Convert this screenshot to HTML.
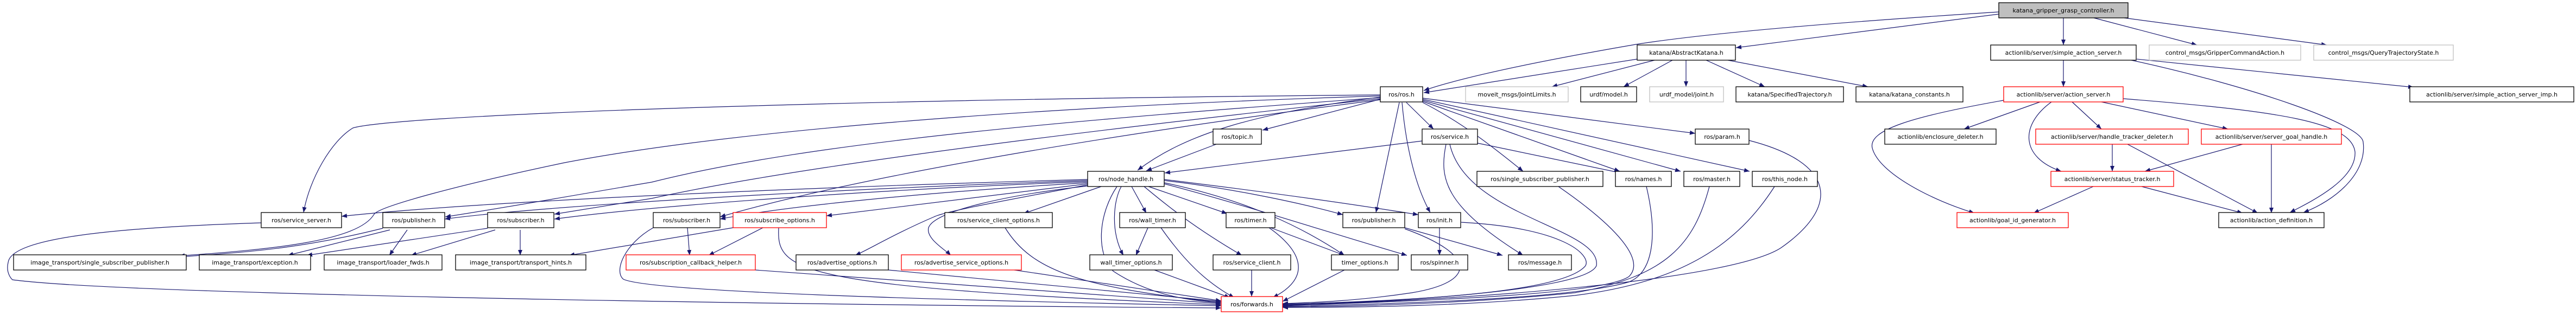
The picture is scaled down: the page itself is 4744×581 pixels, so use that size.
<!DOCTYPE html>
<html><head><meta charset="utf-8"><style>
html,body{margin:0;padding:0;background:#fff;}
svg{display:block;}
text{font-family:"DejaVu Sans","Liberation Sans",sans-serif;font-size:11px;text-anchor:middle;fill:#000;}
.e{fill:none;stroke:#191970;stroke-width:1.2;}
.b rect{fill:#fff;stroke:#000;stroke-width:1.3;}
.r rect{fill:#fff;stroke:#ff0000;stroke-width:1.3;}
.g rect{fill:#fff;stroke:#bfbfbf;stroke-width:1.3;}
</style></head><body>
<svg width="4744" height="581" viewBox="0 0 4744 581" xmlns="http://www.w3.org/2000/svg">
<defs><marker id="a" markerUnits="userSpaceOnUse" markerWidth="11" markerHeight="9" refX="10" refY="4" orient="auto"><path d="M0,0 L10,4 L0,8 z" fill="#191970"/></marker></defs>
<g class="e" marker-end="url(#a)">
<!-- root -->
<path d="M3681,26 L3197,88"/>
<path d="M3681,22 C3400,40 3150,60 3012,82 C2850,110 2700,140 2622,167"/>
<path d="M3800,33 L3800,83"/>
<path d="M3856,33 L4046,83"/>
<path d="M3912,33 L4285,83"/>
<!-- AbstractKatana -->
<path d="M3015,109 L2622,171"/>
<path d="M3047,111 L2858,160"/>
<path d="M3080,111 L2990,160"/>
<path d="M3105,111 L3105,160"/>
<path d="M3142,111 L3250,160"/>
<path d="M3182,111 L3440,160"/>
<!-- simple_action_server -->
<path d="M3800,111 L3800,160"/>
<path d="M3935,109 L4445,161"/>
<path d="M3925,111 C4150,160 4350,230 4352,262 C4360,320 4300,370 4242,392"/>
<!-- action_server -->
<path d="M3910,182 C4200,205 4330,225 4337,280 C4340,330 4260,370 4217,392"/>
<path d="M3757,188 L3617,238"/>
<path d="M3816,188 L3870,238"/>
<path d="M3870,188 L4103,238"/>
<path d="M3778,188 C3720,230 3720,290 3796,316"/>
<path d="M3690,185 C3520,215 3440,240 3448,273 C3460,320 3560,370 3636,393"/>
<!-- htd / sgh / status -->
<path d="M3890,266 L3890,316"/>
<path d="M3918,266 L4158,393"/>
<path d="M4130,266 L3950,316"/>
<path d="M4183,266 L4183,393"/>
<path d="M3855,344 L3745,393"/>
<path d="M3944,344 L4130,393"/>
<!-- ros.h -->
<path d="M2590,189 L2640,238"/>
<path d="M2620,181 L3122,246"/>
<path d="M2620,189 C2700,230 2760,280 2805,316"/>
<path d="M2620,187 L2983,316"/>
<path d="M2620,185 L3095,316"/>
<path d="M2620,183 L3222,316"/>
<path d="M2577,189 L2534,392"/>
<path d="M2582,189 C2590,280 2610,350 2634,392"/>
<path d="M2542,183 L2325,240"/>
<path d="M2542,179 C2300,210 2180,250 2095,314"/>
<path d="M2542,175 C1400,185 720,215 650,236 C610,260 570,330 559,392"/>
<path d="M2542,177 C1800,200 1300,250 1040,300 C850,340 700,380 689,395 C660,445 500,460 330,472"/>
<path d="M2542,180 C2000,220 1500,260 1200,336 C1000,370 900,388 820,400"/>
<path d="M2542,182 C2100,230 1500,300 1200,366 L1021,395"/>
<path d="M2542,184 C2100,240 1600,320 1326,400"/>
<!-- node_handle -->
<path d="M2003,331 C1500,345 900,370 629,399"/>
<path d="M2003,333 C1500,350 1000,380 819,404"/>
<path d="M2003,335 C1600,350 1200,380 1021,404"/>
<path d="M2003,337 C1700,355 1450,380 1326,404"/>
<path d="M2003,339 L1522,398"/>
<path d="M2028,344 L1885,394"/>
<path d="M2084,344 L2111,393"/>
<path d="M2115,344 L2260,394"/>
<path d="M2003,341 C1850,370 1740,390 1720,400 C1650,430 1600,460 1575,471"/>
<path d="M2003,343 C1850,360 1720,390 1710,420 C1705,440 1740,460 1751,471"/>
<path d="M2065,344 C2050,370 2045,430 2069,471"/>
<path d="M2107,344 C2150,380 2200,420 2287,471"/>
<path d="M2057,344 C2020,400 2020,470 2050,500 C2110,540 2180,555 2249,558"/>
<path d="M2144,337 C2300,370 2400,420 2476,471"/>
<path d="M2144,339 C2300,380 2450,430 2591,471"/>
<path d="M2144,333 C2250,345 2380,370 2473,396"/>
<path d="M2144,331 C2300,350 2450,370 2612,396"/>
<!-- mid -->
<path d="M2240,266 L2111,315"/>
<path d="M2619,260 L2145,319"/>
<path d="M2721,264 L2985,319"/>
<path d="M2663,266 C2650,330 2660,380 2805,471"/>
<path d="M2670,266 C2700,400 2950,420 2940,490 C2920,540 2500,560 2362,562"/>
<path d="M3221,259 C3380,300 3390,380 3280,457 C3200,510 2800,550 2362,563"/>
<path d="M2870,344 C2980,420 3030,480 3000,510 C2950,545 2600,555 2362,564"/>
<path d="M3032,344 C3050,420 3050,500 3000,520 C2900,550 2600,560 2362,565"/>
<path d="M3148,344 C3120,450 3070,510 2900,540 C2700,560 2500,565 2362,566"/>
<path d="M3268,344 C3200,450 3100,520 2900,545 C2700,565 2500,567 2362,567"/>
<path d="M2651,420 L2651,471"/>
<path d="M2691,410 C2880,420 2930,470 2920,490 C2880,540 2600,555 2362,561"/>
<path d="M2587,420 L2767,471"/>
<path d="M2587,422 C2720,470 2720,520 2600,540 C2500,555 2420,558 2362,560"/>
<path d="M2476,498 L2362,556"/>
<path d="M2340,420 L2476,471"/>
<path d="M2337,420 C2394,460 2420,510 2344,549"/>
<path d="M2114,420 L2092,471"/>
<path d="M2138,420 C2180,480 2220,520 2273,549"/>
<path d="M2126,498 L2265,549"/>
<path d="M2305,498 L2305,547"/>
<path d="M1851,420 C1900,500 1990,530 2249,558"/>
<path d="M1636,498 L2249,556"/>
<path d="M1868,498 L2249,555"/>
<path d="M1391,498 L2249,560"/>
<path d="M1405,420 L1305,471"/>
<path d="M1434,420 C1430,500 1460,530 2249,562"/>
<path d="M1350,420 L1048,471"/>
<path d="M1266,420 L1270,471"/>
<path d="M1203,420 C1150,450 1130,500 1148,515 C1200,540 1800,555 2249,564"/>
<path d="M481,411 C200,420 20,440 15,484 C10,505 23,516 23,516 C200,540 1200,560 2249,568"/>
<!-- image_transport -->
<path d="M705,421 C550,460 450,465 330,474"/>
<path d="M718,424 L530,471"/>
<path d="M750,424 L717,471"/>
<path d="M898,421 L565,471"/>
<path d="M912,424 L757,471"/>
<path d="M958,424 L958,471"/>
</g>
<!-- nodes -->
<g class="g"><rect x="3681" y="5" width="238" height="28" style="fill:#bfbfbf;stroke:#000"/><text x="3800" y="23">katana_gripper_grasp_controller.h</text></g>
<g class="b"><rect x="3015" y="83" width="181" height="28"/><text x="3105.5" y="101">katana/AbstractKatana.h</text></g>
<g class="b"><rect x="3666" y="83" width="268" height="28"/><text x="3800" y="101">actionlib/server/simple_action_server.h</text></g>
<g class="g"><rect x="3958" y="83" width="279" height="28"/><text x="4097.5" y="101">control_msgs/GripperCommandAction.h</text></g>
<g class="g"><rect x="4261" y="83" width="257" height="28"/><text x="4389.5" y="101">control_msgs/QueryTrajectoryState.h</text></g>
<g class="b"><rect x="2542" y="160" width="78" height="28"/><text x="2581" y="178">ros/ros.h</text></g>
<g class="g"><rect x="2699" y="160" width="189" height="28"/><text x="2793.5" y="178">moveit_msgs/JointLimits.h</text></g>
<g class="b"><rect x="2911" y="160" width="103" height="28"/><text x="2962.5" y="178">urdf/model.h</text></g>
<g class="g"><rect x="3038" y="160" width="136" height="28"/><text x="3106" y="178">urdf_model/joint.h</text></g>
<g class="b"><rect x="3197" y="160" width="198" height="28"/><text x="3296" y="178">katana/SpecifiedTrajectory.h</text></g>
<g class="b"><rect x="3418" y="160" width="197" height="28"/><text x="3516.5" y="178">katana/katana_constants.h</text></g>
<g class="r"><rect x="3690" y="160" width="220" height="28"/><text x="3800" y="178">actionlib/server/action_server.h</text></g>
<g class="b"><rect x="4438" y="160" width="302" height="28"/><text x="4589" y="178">actionlib/server/simple_action_server_imp.h</text></g>
<g class="b"><rect x="2234" y="238" width="89" height="28"/><text x="2278.5" y="256">ros/topic.h</text></g>
<g class="b"><rect x="2619" y="238" width="102" height="28"/><text x="2670" y="256">ros/service.h</text></g>
<g class="b"><rect x="3122" y="238" width="99" height="28"/><text x="3171.5" y="256">ros/param.h</text></g>
<g class="b"><rect x="3471" y="238" width="205" height="28"/><text x="3573.5" y="256">actionlib/enclosure_deleter.h</text></g>
<g class="r"><rect x="3749" y="238" width="281" height="28"/><text x="3889.5" y="256">actionlib/server/handle_tracker_deleter.h</text></g>
<g class="r"><rect x="4054" y="238" width="258" height="28"/><text x="4183" y="256">actionlib/server/server_goal_handle.h</text></g>
<g class="b"><rect x="2003" y="316" width="141" height="28"/><text x="2073.5" y="334">ros/node_handle.h</text></g>
<g class="b"><rect x="2720" y="316" width="232" height="28"/><text x="2836" y="334">ros/single_subscriber_publisher.h</text></g>
<g class="b"><rect x="2975" y="316" width="103" height="28"/><text x="3026.5" y="334">ros/names.h</text></g>
<g class="b"><rect x="3101" y="316" width="103" height="28"/><text x="3152.5" y="334">ros/master.h</text></g>
<g class="b"><rect x="3227" y="316" width="120" height="28"/><text x="3287" y="334">ros/this_node.h</text></g>
<g class="r"><rect x="3777" y="316" width="226" height="28"/><text x="3890" y="334">actionlib/server/status_tracker.h</text></g>
<g class="b"><rect x="481" y="392" width="148" height="28"/><text x="555" y="410">ros/service_server.h</text></g>
<g class="b"><rect x="705" y="392" width="114" height="28"/><text x="762" y="410">ros/publisher.h</text></g>
<g class="b"><rect x="898" y="392" width="122" height="28"/><text x="959" y="410">ros/subscriber.h</text></g>
<g class="b"><rect x="1203" y="392" width="123" height="28"/><text x="1264.5" y="410">ros/subscriber.h</text></g>
<g class="r"><rect x="1350" y="392" width="172" height="28"/><text x="1436" y="410">ros/subscribe_options.h</text></g>
<g class="b"><rect x="1740" y="392" width="198" height="28"/><text x="1839" y="410">ros/service_client_options.h</text></g>
<g class="b"><rect x="2062" y="392" width="121" height="28"/><text x="2122.5" y="410">ros/wall_timer.h</text></g>
<g class="b"><rect x="2258" y="392" width="90" height="28"/><text x="2303" y="410">ros/timer.h</text></g>
<g class="b"><rect x="2473" y="392" width="114" height="28"/><text x="2530" y="410">ros/publisher.h</text></g>
<g class="b"><rect x="2612" y="392" width="78" height="28"/><text x="2651" y="410">ros/init.h</text></g>
<g class="r"><rect x="3604" y="392" width="205" height="28"/><text x="3706.5" y="410">actionlib/goal_id_generator.h</text></g>
<g class="b"><rect x="4086" y="392" width="194" height="28"/><text x="4183" y="410">actionlib/action_definition.h</text></g>
<g class="b"><rect x="25" y="470" width="318" height="28"/><text x="184" y="488">image_transport/single_subscriber_publisher.h</text></g>
<g class="b"><rect x="367" y="470" width="205" height="28"/><text x="469.5" y="488">image_transport/exception.h</text></g>
<g class="b"><rect x="597" y="470" width="217" height="28"/><text x="705.5" y="488">image_transport/loader_fwds.h</text></g>
<g class="b"><rect x="839" y="470" width="240" height="28"/><text x="959" y="488">image_transport/transport_hints.h</text></g>
<g class="r"><rect x="1153" y="470" width="238" height="28"/><text x="1272" y="488">ros/subscription_callback_helper.h</text></g>
<g class="b"><rect x="1466" y="470" width="170" height="28"/><text x="1551" y="488">ros/advertise_options.h</text></g>
<g class="r"><rect x="1660" y="470" width="221" height="28"/><text x="1770.5" y="488">ros/advertise_service_options.h</text></g>
<g class="b"><rect x="2007" y="470" width="152" height="28"/><text x="2083" y="488">wall_timer_options.h</text></g>
<g class="b"><rect x="2234" y="470" width="143" height="28"/><text x="2305.5" y="488">ros/service_client.h</text></g>
<g class="b"><rect x="2452" y="470" width="123" height="28"/><text x="2513.5" y="488">timer_options.h</text></g>
<g class="b"><rect x="2599" y="470" width="104" height="28"/><text x="2651" y="488">ros/spinner.h</text></g>
<g class="b"><rect x="2778" y="470" width="116" height="28"/><text x="2836" y="488">ros/message.h</text></g>
<g class="r"><rect x="2249" y="547" width="113" height="28"/><text x="2305.5" y="565">ros/forwards.h</text></g>
</svg>
</body></html>
